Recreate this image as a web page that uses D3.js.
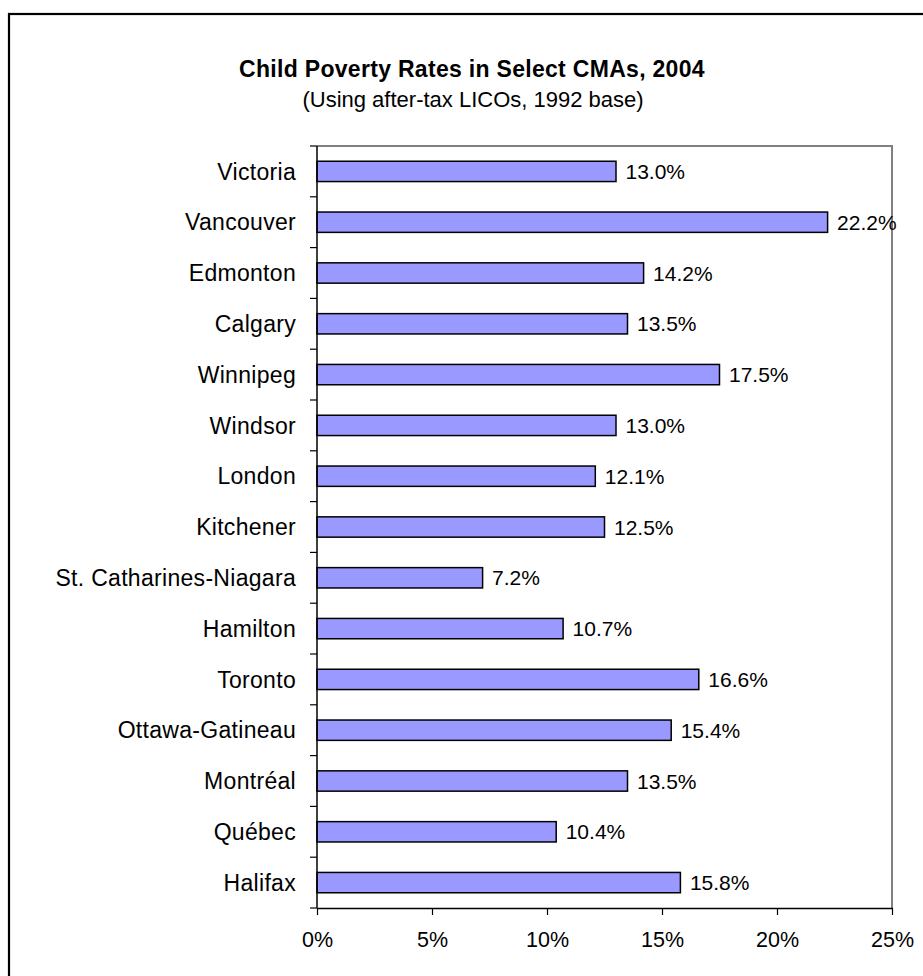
<!DOCTYPE html>
<html>
<head>
<meta charset="utf-8">
<script src="https://cdn.jsdelivr.net/npm/d3@7"></script>
<style>
  html, body { margin: 0; padding: 0; background: #fff; }
  svg { display: block; font-family: "Liberation Sans", Arial, sans-serif; }
</style>
</head>
<body>
<svg id="chart" width="923" height="976"></svg>
<script>
// Child poverty rates (%) by Census Metropolitan Area, 2004
const cities = [
  "Victoria", "Vancouver", "Edmonton", "Calgary", "Winnipeg", "Windsor",
  "London", "Kitchener", "St. Catharines-Niagara", "Hamilton", "Toronto",
  "Ottawa-Gatineau", "Montréal", "Québec", "Halifax"
];
const rates = [13.0, 22.2, 14.2, 13.5, 17.5, 13.0, 12.1, 12.5, 7.2, 10.7, 16.6, 15.4, 13.5, 10.4, 15.8];
const xTicks = [0, 5, 10, 15, 20, 25];
const title = "Child Poverty Rates in Select CMAs, 2004";
const subtitle = "(Using after-tax LICOs, 1992 base)";

const data = cities.map((c, i) => ({ city: c, rate: rates[i] }));

const svg = d3.select("#chart");
const plot = { left: 317, right: 892, top: 146, bottom: 908 };

// outer frame
svg.append("rect")
  .attr("x", 9).attr("y", 14)
  .attr("width", 940).attr("height", 990)
  .attr("fill", "none").attr("stroke", "#000").attr("stroke-width", 2.2);

// titles
svg.append("text")
  .attr("x", 472).attr("y", 77)
  .attr("text-anchor", "middle")
  .attr("font-size", 23).attr("font-weight", "bold")
  .attr("letter-spacing", 0.3)
  .text(title);
svg.append("text")
  .attr("x", 473).attr("y", 107)
  .attr("text-anchor", "middle")
  .attr("font-size", 22)
  .text(subtitle);

const x = d3.scaleLinear().domain([0, 25]).range([plot.left, plot.right]);
const y = d3.scaleBand()
  .domain(cities)
  .range([plot.top, plot.bottom])
  .paddingInner(0.6).paddingOuter(0.3);

// plot area frame (top and right edges in grey)
svg.append("path")
  .attr("d", `M${plot.left},${plot.top}H${plot.right}V${plot.bottom}`)
  .attr("fill", "none").attr("stroke", "#808080").attr("stroke-width", 2);

// bars
svg.append("g").selectAll("rect")
  .data(data)
  .join("rect")
  .attr("x", x(0))
  .attr("y", d => y(d.city))
  .attr("width", d => x(d.rate) - x(0))
  .attr("height", y.bandwidth())
  .attr("fill", "#9999FF")
  .attr("stroke", "#000").attr("stroke-width", 1.5);

// value labels
svg.append("g").selectAll("text")
  .data(data)
  .join("text")
  .attr("x", d => x(d.rate) + 9.5)
  .attr("y", d => y(d.city) + y.bandwidth() / 2)
  .attr("dy", "0.36em")
  .attr("font-size", 21)
  .text(d => d.rate.toFixed(1) + "%");

// category axis: ticks sit between categories
const yEdge = d3.scaleLinear().domain([0, cities.length]).range([plot.top, plot.bottom]);
const yAxis = svg.append("g");
yAxis.append("line")
  .attr("x1", plot.left).attr("x2", plot.left)
  .attr("y1", plot.top).attr("y2", plot.bottom)
  .attr("stroke", "#000").attr("stroke-width", 1.5);
yAxis.selectAll("line.tick")
  .data(d3.range(cities.length + 1))
  .join("line")
  .attr("class", "tick")
  .attr("x1", plot.left - 7).attr("x2", plot.left)
  .attr("y1", d => yEdge(d)).attr("y2", d => yEdge(d))
  .attr("stroke", "#000").attr("stroke-width", 1.2);
yAxis.selectAll("text")
  .data(cities)
  .join("text")
  .attr("x", plot.left - 21)
  .attr("y", d => y(d) + y.bandwidth() / 2)
  .attr("dy", "0.36em")
  .attr("text-anchor", "end")
  .attr("font-size", 23)
  .attr("letter-spacing", 0.3)
  .text(d => d);

// value axis
const xAxis = svg.append("g")
  .attr("transform", `translate(0,${plot.bottom})`)
  .call(d3.axisBottom(x)
    .tickValues(xTicks)
    .tickFormat(d => d + "%")
    .tickSize(7)
    .tickSizeOuter(0)
    .tickPadding(17));
xAxis.select(".domain").attr("stroke", "#000").attr("stroke-width", 1.5);
xAxis.selectAll(".tick line").attr("stroke", "#000").attr("stroke-width", 1.2);
xAxis.selectAll(".tick text")
  .attr("font-size", 21.5)
  .attr("font-family", "Liberation Sans, Arial, sans-serif")
  .attr("fill", "#000");
</script>
</body>
</html>
